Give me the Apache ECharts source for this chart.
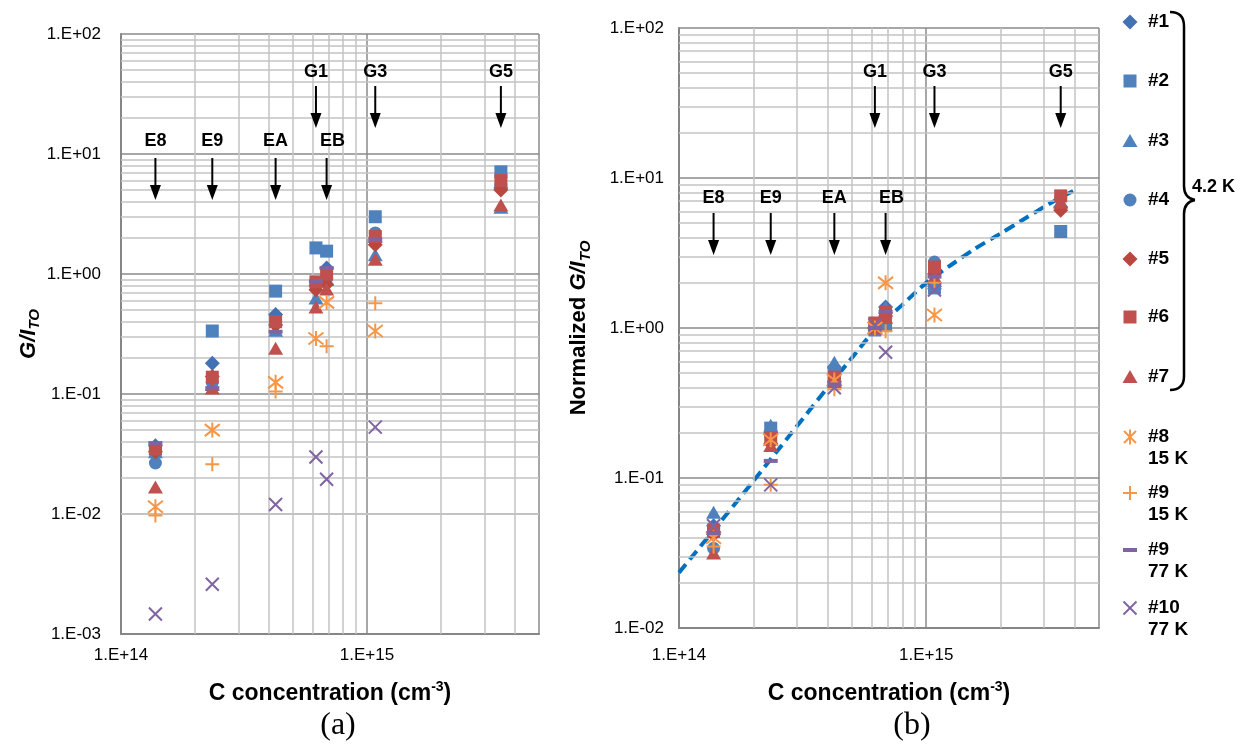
<!DOCTYPE html>
<html><head><meta charset="utf-8">
<script src="https://cdn.jsdelivr.net/npm/echarts@6/dist/echarts.min.js"></script>
<style>html,body{margin:0;padding:0;background:#fff}#c{width:1240px;height:747px}</style>
</head><body><div id="c"></div>
<script>
// ---------------- data ----------------
const groupNames = ['E8', 'E9', 'EA', 'G1', 'EB', 'G3', 'G5'];
const concentration = [1.38e14, 2.35e14, 4.25e14, 6.2e14, 6.85e14, 1.08e15, 3.5e15];
const seriesNames = ['#1', '#2', '#3', '#4', '#5', '#6', '#7', '#8 15 K', '#9 15 K', '#9 77 K', '#10 77 K'];
const legendLines = [['#1'], ['#2'], ['#3'], ['#4'], ['#5'], ['#6'], ['#7'], ['#8', '15 K'], ['#9', '15 K'], ['#9', '77 K'], ['#10', '77 K']];
const bracketLabel = '4.2 K';

// (a) G/I_TO
const a1  = [0.037, 0.18, 0.46, 0.80, 1.12, 1.85, 5.2];
const a2  = [0.035, 0.335, 0.72, 1.65, 1.55, 3.0, 7.1];
const a3  = [0.033, 0.12, 0.34, 0.63, 0.90, 1.45, 3.6];
const a4  = [0.0266, 0.125, 0.40, 0.84, 0.92, 2.2, 5.5];
const a5  = [0.033, 0.14, 0.375, 0.74, 0.82, 1.75, 5.0];
const a6  = [0.0348, 0.138, 0.40, 0.86, 1.0, 2.05, 6.0];
const a7  = [0.0168, 0.112, 0.24, 0.53, 0.75, 1.33, 3.76];
const a8  = [0.0115, 0.05, 0.125, 0.29, 0.58, 0.335, null];
const a9  = [0.0097, 0.026, 0.105, null, 0.25, 0.57, null];
const a9b = [0.039, 0.112, 0.33, 0.87, 1.12, 1.96, null];
const a10 = [0.00147, 0.0026, 0.012, 0.0299, 0.0195, 0.053, null];

// (b) normalized G/I_TO
const b1  = [0.048, 0.20, 0.55, 1.0, 1.38, 1.9, 6.4];
const b2  = [0.044, 0.215, 0.49, 0.97, 1.05, 1.85, 4.4];
const b3  = [0.059, 0.225, 0.59, 1.02, 1.38, 2.0, 7.0];
const b4  = [0.034, 0.19, 0.50, 0.98, 1.25, 2.75, 7.4];
const b5  = [0.042, 0.17, 0.44, 1.0, 1.2, 2.3, 6.1];
const b6  = [0.045, 0.185, 0.47, 1.08, 1.27, 2.55, 7.6];
const b7  = [0.0316, 0.165, 0.44, 1.0, 1.18, 2.2, 6.9];
const b8  = [0.040, 0.18, 0.45, 1.0, 2.0, 1.22, null];
const b9  = [0.035, 0.09, 0.39, null, 0.95, 2.0, null];
const b9b = [0.043, 0.13, 0.42, 1.0, 1.28, 2.2, null];
const b10 = [0.048, 0.09, 0.40, 1.05, 0.69, 1.79, null];

// dashed trend curve in (b)
const fitC = [1e14, 1.41e14, 2.0e14, 2.82e14, 3.98e14, 5.0e14, 6.3e14, 7.94e14, 1e15, 1.26e15, 1.58e15, 2.0e15, 2.51e15, 3.16e15, 4.05e15];
const fitY = [0.0234, 0.0468, 0.0955, 0.195, 0.398, 0.631, 1.0, 1.41, 2.0, 2.63, 3.39, 4.27, 5.37, 6.76, 8.41];

const arrowsLow = ['E8', 'E9', 'EA', 'EB'];
const arrowsHigh = ['G1', 'G3', 'G5'];

// minor grid values (2..9 per decade)
function minors(e0, e1, maxV) {
  const out = [];
  for (let e = e0; e <= e1; e++) for (let m = 2; m <= 9; m++) {
    const v = m * Math.pow(10, e);
    if (v < maxV * 0.999) out.push(v);
  }
  return out;
}
const xMinor = minors(14, 15, 5e15);
const yMinorA = minors(-3, 1, 1e2);
const yMinorB = minors(-2, 1, 1e2);

// ---------------- styles ----------------
const BLUE = '#4F81BD', BLUE_D = '#4470B4', RED = '#C0504D', RED_D = '#B9463F', ORANGE = '#F79646', PURPLE = '#8064A2';
const SYM = [
  {kind: 'diamond', symbol: 'diamond', size: 15, color: BLUE_D},
  {kind: 'rect', symbol: 'rect', size: 13, color: BLUE},
  {kind: 'triangle', symbol: 'triangle', size: [15, 13], color: BLUE},
  {kind: 'circle', symbol: 'circle', size: 13, color: BLUE},
  {kind: 'diamond', symbol: 'diamond', size: 15, color: RED_D},
  {kind: 'rect', symbol: 'rect', size: 13, color: RED},
  {kind: 'triangle', symbol: 'triangle', size: [15, 13], color: RED},
  {kind: 'star', symbol: 'path://M0,-1L0,1M-0.8,-0.8L0.8,0.8M-0.8,0.8L0.8,-0.8', size: 15, color: ORANGE, stroke: true},
  {kind: 'plus', symbol: 'path://M0,-1L0,1M-1,0L1,0', size: 14, color: ORANGE, stroke: true},
  {kind: 'dash', symbol: 'rect', size: [14, 4], color: PURPLE},
  {kind: 'x', symbol: 'path://M-1,-1L1,1M-1,1L1,-1', size: 13, color: PURPLE, stroke: true}
];

const FONT = 'Liberation Sans';
function pts(vals) {
  const out = [];
  concentration.forEach((c, i) => { if (vals[i] != null) out.push([c, vals[i]]); });
  return out;
}
function fmt(v) {
  const e = Math.log10(v), r = Math.round(e);
  if (Math.abs(e - r) > 1e-6) return '';
  return '1.E' + (r < 0 ? '-' : '+') + String(Math.abs(r)).padStart(2, '0');
}
function scatterSeries(vals, k, gi) {
  const s = SYM[k];
  return {
    type: 'scatter', name: seriesNames[k], xAxisIndex: gi, yAxisIndex: gi,
    data: pts(vals), symbol: s.symbol, symbolSize: s.size, z: 5,
    itemStyle: s.stroke ? {color: s.color, borderColor: s.color, borderWidth: 2, opacity: 1}
                        : {color: s.color, opacity: 1},
    emphasis: {disabled: true}, animation: false
  };
}
function gridSeries(gi, xs, ys) {
  return {
    type: 'line', xAxisIndex: gi, yAxisIndex: gi, data: [], silent: true, z: 1, animation: false,
    markLine: {
      silent: true, symbol: ['none', 'none'], animation: false, label: {show: false},
      lineStyle: {color: '#C3C3C3', width: 1.5, type: 'solid'},
      emphasis: {disabled: true},
      data: xs.map(v => ({xAxis: v})).concat(ys.map(v => ({yAxis: v})))
    }
  };
}
const axisCommon = {
  type: 'log', logBase: 10,
  axisLine: {show: true, onZero: false, lineStyle: {color: '#868686', width: 2}},
  axisTick: {show: false},
  splitLine: {show: true, lineStyle: {color: '#8A8A8A', width: 1.5}},
  axisLabel: {fontFamily: FONT, fontSize: 17, color: '#000', formatter: fmt}
};
const sub = {
  g: {fontFamily: FONT, fontSize: 22, fontWeight: 'bold', fontStyle: 'italic', color: '#000', lineHeight: 28},
  n: {fontFamily: FONT, fontSize: 22, fontWeight: 'bold', color: '#000', lineHeight: 28},
  s: {fontFamily: FONT, fontSize: 15, fontWeight: 'bold', fontStyle: 'italic', color: '#000', verticalAlign: 'bottom'}
};
const xNameRich = {
  t: {fontFamily: FONT, fontSize: 23, fontWeight: 'bold', color: '#000', lineHeight: 28},
  p: {fontFamily: FONT, fontSize: 14, fontWeight: 'bold', color: '#000', verticalAlign: 'top'}
};
const xName = '{t|C concentration (cm}{p|-3}{t|)}';

const dataA = [a1, a2, a3, a4, a5, a6, a7, a8, a9, a9b, a10];
const dataB = [b1, b2, b3, b4, b5, b6, b7, b8, b9, b9b, b10];

const series = [gridSeries(0, xMinor, yMinorA), gridSeries(1, xMinor, yMinorB)];
dataA.forEach((v, k) => series.push(scatterSeries(v, k, 0)));
series.push({
  type: 'line', name: 'fit', xAxisIndex: 1, yAxisIndex: 1, z: 4, animation: false,
  data: fitC.map((c, i) => [c, fitY[i]]), smooth: 0.3, showSymbol: false, symbol: 'none',
  lineStyle: {color: '#0070C0', width: 4, type: [11, 6]}, emphasis: {disabled: true}
});
dataB.forEach((v, k) => series.push(scatterSeries(v, k, 1)));

const option = {
  animation: false,
  backgroundColor: '#fff',
  grid: [
    {left: 121, top: 34, width: 418, height: 600},
    {left: 679, top: 28, width: 420, height: 600}
  ],
  xAxis: [
    Object.assign({}, axisCommon, {gridIndex: 0, min: 1e14, max: 5e15,
      axisLabel: Object.assign({}, axisCommon.axisLabel, {margin: 13, showMaxLabel: false}),
      name: xName, nameLocation: 'middle', nameGap: 46, nameTextStyle: {rich: xNameRich}}),
    Object.assign({}, axisCommon, {gridIndex: 1, min: 1e14, max: 5e15,
      axisLabel: Object.assign({}, axisCommon.axisLabel, {margin: 19, showMaxLabel: false}),
      name: xName, nameLocation: 'middle', nameGap: 52, nameTextStyle: {rich: xNameRich}})
  ],
  yAxis: [
    Object.assign({}, axisCommon, {gridIndex: 0, min: 1e-3, max: 1e2,
      axisLabel: Object.assign({}, axisCommon.axisLabel, {margin: 20}),
      name: '{g|G/I}{s|TO}', nameLocation: 'middle', nameRotate: 90, nameGap: 78, nameTextStyle: {rich: sub}}),
    Object.assign({}, axisCommon, {gridIndex: 1, min: 1e-2, max: 1e2,
      axisLabel: Object.assign({}, axisCommon.axisLabel, {margin: 15}),
      name: '{n|Normalized }{g|G/I}{s|TO}', nameLocation: 'middle', nameRotate: 90, nameGap: 86, nameTextStyle: {rich: sub}})
  ],
  series: series
};

const chart = echarts.init(document.getElementById('c'));
chart.setOption(option);

// ---------------- annotations & legend ----------------
const G = [];
function txt(x, y, text, font, align) {
  G.push({type: 'text', x: x, y: y, silent: true, z: 20,
    style: {text: text, font: font, fill: '#000', align: align || 'center', verticalAlign: 'middle'}});
}
function arrow(x, y1, y2) {
  G.push({type: 'line', silent: true, z: 20, shape: {x1: x, y1: y1, x2: x, y2: y2 - 12}, style: {stroke: '#000', lineWidth: 2}});
  G.push({type: 'polygon', silent: true, z: 20, shape: {points: [[x - 5.5, y2 - 15], [x + 5.5, y2 - 15], [x, y2]]}, style: {fill: '#000'}});
}
const AFONT = 'bold 18px ' + FONT;
function annotate(gi, lowLabelY, lowY1, lowY2) {
  arrowsLow.forEach(n => {
    const x = chart.convertToPixel({xAxisIndex: gi}, concentration[groupNames.indexOf(n)]);
    txt(x + (n === 'EB' ? 6 : 0), lowLabelY, n, AFONT);
    arrow(x, lowY1, lowY2);
  });
  arrowsHigh.forEach(n => {
    const x = chart.convertToPixel({xAxisIndex: gi}, concentration[groupNames.indexOf(n)]);
    txt(x, 72, n, AFONT);
    arrow(x, 86, 128);
  });
}
annotate(0, 141, 158, 200);
annotate(1, 198, 213, 255);

function legendMarker(k, cx, cy) {
  const s = SYM[k], c = s.color;
  const line = (x1, y1, x2, y2) => G.push({type: 'line', silent: true, z: 20, shape: {x1, y1, x2, y2}, style: {stroke: c, lineWidth: 2}});
  switch (s.kind) {
    case 'diamond': G.push({type: 'polygon', silent: true, z: 20, shape: {points: [[cx, cy - 7.5], [cx + 7.5, cy], [cx, cy + 7.5], [cx - 7.5, cy]]}, style: {fill: c}}); break;
    case 'rect': G.push({type: 'rect', silent: true, z: 20, shape: {x: cx - 6.5, y: cy - 6.5, width: 13, height: 13}, style: {fill: c}}); break;
    case 'triangle': G.push({type: 'polygon', silent: true, z: 20, shape: {points: [[cx, cy - 7], [cx + 7.5, cy + 6], [cx - 7.5, cy + 6]]}, style: {fill: c}}); break;
    case 'circle': G.push({type: 'circle', silent: true, z: 20, shape: {cx, cy, r: 6.5}, style: {fill: c}}); break;
    case 'star': line(cx, cy - 7.5, cx, cy + 7.5); line(cx - 6, cy - 6, cx + 6, cy + 6); line(cx - 6, cy + 6, cx + 6, cy - 6); break;
    case 'plus': line(cx, cy - 7, cx, cy + 7); line(cx - 7, cy, cx + 7, cy); break;
    case 'dash': G.push({type: 'rect', silent: true, z: 20, shape: {x: cx - 7, y: cy - 2, width: 14, height: 4}, style: {fill: c}}); break;
    case 'x': line(cx - 6.5, cy - 6.5, cx + 6.5, cy + 6.5); line(cx - 6.5, cy + 6.5, cx + 6.5, cy - 6.5); break;
  }
}
const legendY = [22, 81, 141, 200, 259, 317, 377, 437, 493, 550, 608];
const LFONT = 'bold 19px ' + FONT;
legendLines.forEach((lines, k) => {
  legendMarker(k, 1130, legendY[k]);
  lines.forEach((t, j) => txt(1148, legendY[k] + j * 22, t, LFONT, 'left'));
});
// brace for the 4.2 K group
const BR = {stroke: '#000', lineWidth: 2.5, fill: null};
function bz(x1, y1, cx, cy, x2, y2) {
  G.push({type: 'bezierCurve', silent: true, z: 20, shape: {x1, y1, cpx1: cx, cpy1: cy, x2, y2}, style: BR});
}
function ln(x1, y1, x2, y2) {
  G.push({type: 'line', silent: true, z: 20, shape: {x1, y1, x2, y2}, style: BR});
}
bz(1170, 12, 1184, 12, 1184, 26);
ln(1184, 26, 1184, 186);
bz(1184, 186, 1184, 198, 1195, 200);
bz(1195, 200, 1184, 202, 1184, 214);
ln(1184, 214, 1184, 376);
bz(1184, 376, 1184, 390, 1170, 390);
txt(1192, 187, bracketLabel, 'bold 18px ' + FONT, 'left');
// panel captions
txt(338, 726, '(a)', '32px Liberation Serif');
txt(912, 726, '(b)', '32px Liberation Serif');

chart.setOption({graphic: G});
</script>
</body></html>
